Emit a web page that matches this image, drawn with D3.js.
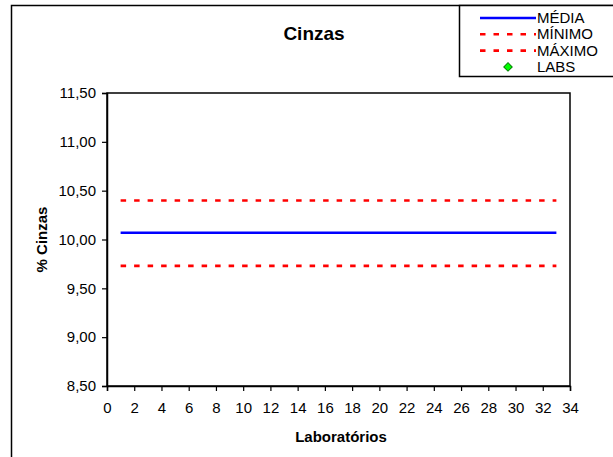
<!DOCTYPE html>
<html>
<head>
<meta charset="utf-8">
<script src="https://cdn.jsdelivr.net/npm/d3@7"></script>
<style>
  body { margin:0; background:#fff; }
  svg { font-family: "Liberation Sans", Arial, sans-serif; }
</style>
</head>
<body>
<svg id="chart" width="613" height="457"></svg>
<script>
// data
var labsX = [1, 33];
var media = [10.07, 10.07];
var minimo = [9.73, 9.73];
var maximo = [10.40, 10.40];
var labs = [];   // no lab points shown
var yTicks = [8.5, 9.0, 9.5, 10.0, 10.5, 11.0, 11.5];
var xTicks = d3.range(0, 35, 2);

var svg = d3.select("#chart");
var margin = {left:107, right:43, top:93, bottom:71};
var width = 613, height = 457;

var x = d3.scaleLinear().domain([0, 34]).range([margin.left, width - margin.right]);
var y = d3.scaleLinear().domain([8.5, 11.5]).range([height - margin.bottom, margin.top]);

// outer chart border
svg.append("rect")
    .attr("x", 11.5).attr("y", 5.5)
    .attr("width", 620).attr("height", 470)
    .attr("fill", "none").attr("stroke", "#000").attr("stroke-width", 1.5);

// plot area box
svg.append("rect")
    .attr("x", x(0)).attr("y", y(11.5))
    .attr("width", x(34) - x(0)).attr("height", y(8.5) - y(11.5))
    .attr("fill", "none").attr("stroke", "#000").attr("stroke-width", 1.5);

var fmt = function(d){ return d3.format(".2f")(d).replace(".", ","); };

var yAxis = svg.append("g")
    .attr("transform", "translate(" + x(0) + ",0)")
    .call(d3.axisLeft(y).tickValues(yTicks).tickFormat(fmt).tickSize(5).tickPadding(6));
var xAxis = svg.append("g")
    .attr("transform", "translate(0," + y(8.5) + ")")
    .call(d3.axisBottom(x).tickValues(xTicks).tickSize(5).tickPadding(11));

[xAxis, yAxis].forEach(function(ax){
    ax.attr("font-size", null).attr("font-family", null);
    ax.select(".domain").attr("stroke", "#000").attr("stroke-width", 1.5);
    ax.selectAll(".tick line").attr("stroke", "#000").attr("stroke-width", 1.2);
    ax.selectAll("text").style("font-size", "15px").attr("fill", "#000");
});

function series(vals){
    return labsX.map(function(d, i){ return [d, vals[i]]; });
}
var line = d3.line().x(function(d){ return x(d[0]); }).y(function(d){ return y(d[1]); });

svg.append("path").datum(series(maximo)).attr("d", line)
    .attr("fill", "none").attr("stroke", "#ff0000").attr("stroke-width", 2.6)
    .attr("stroke-dasharray", "5.5,8");
svg.append("path").datum(series(minimo)).attr("d", line)
    .attr("fill", "none").attr("stroke", "#ff0000").attr("stroke-width", 2.6)
    .attr("stroke-dasharray", "5.5,8");
svg.append("path").datum(series(media)).attr("d", line)
    .attr("fill", "none").attr("stroke", "#0000ff").attr("stroke-width", 2.5);

// diamond marker = square turned 45 degrees
var diamond = d3.symbol(d3.symbolSquare, 36);
svg.selectAll(".lab").data(labs).enter().append("path")
    .attr("class", "lab")
    .attr("d", diamond)
    .attr("transform", function(d){ return "translate(" + x(d[0]) + "," + y(d[1]) + ") rotate(45)"; })
    .attr("fill", "#00ff00").attr("stroke", "#008000");

// titles
svg.append("text").attr("x", 314).attr("y", 40).attr("text-anchor", "middle")
    .style("font-size", "19px").attr("font-weight", "bold").text("Cinzas");
svg.append("text").attr("x", 341).attr("y", 442).attr("text-anchor", "middle")
    .style("font-size", "15px").attr("font-weight", "bold").text("Laboratórios");
svg.append("text").attr("transform", "translate(47," + y(10) + ") rotate(-90)")
    .attr("text-anchor", "middle").style("font-size", "15px").attr("font-weight", "bold")
    .text("% Cinzas");

// legend
var legendItems = [
    {name:"MÉDIA", color:"#0000ff", dash:null, w:2.5},
    {name:"MÍNIMO", color:"#ff0000", dash:"5.5,8", w:2.6},
    {name:"MÁXIMO", color:"#ff0000", dash:"5.5,8", w:2.6},
    {name:"LABS", symbol:true}
];
var lg = svg.append("g");
lg.append("rect").attr("x", 459.5).attr("y", 5.5).attr("width", 170).attr("height", 71)
    .attr("fill", "#fff").attr("stroke", "#000").attr("stroke-width", 1.5);
var li = lg.selectAll(".li").data(legendItems).enter().append("g")
    .attr("transform", function(d, i){ return "translate(0," + (18 + i * 16.3) + ")"; });
li.filter(function(d){ return !d.symbol; }).append("line")
    .attr("x1", 480).attr("x2", 536).attr("y1", 0).attr("y2", 0)
    .attr("stroke", function(d){ return d.color; })
    .attr("stroke-width", function(d){ return d.w; })
    .attr("stroke-dasharray", function(d){ return d.dash; });
li.filter(function(d){ return d.symbol; }).append("path")
    .attr("d", diamond)
    .attr("transform", "translate(508,0) rotate(45)")
    .attr("fill", "#00ff00").attr("stroke", "#008000");
li.append("text").attr("x", 537).attr("y", 5).style("font-size", "15px")
    .text(function(d){ return d.name; });
</script>
</body>
</html>
